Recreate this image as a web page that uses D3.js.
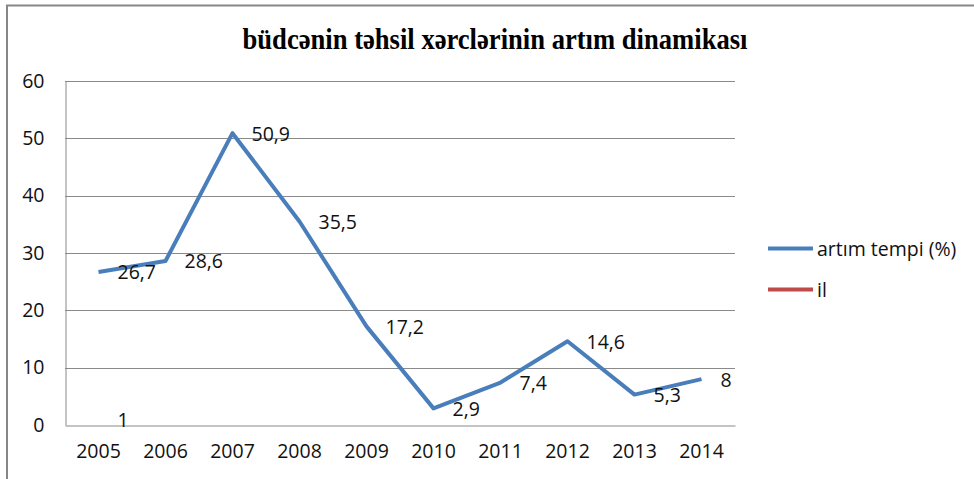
<!DOCTYPE html>
<html>
<head>
<meta charset="utf-8">
<script src="https://cdn.jsdelivr.net/npm/d3@7"></script>
<style>
  html, body { margin: 0; padding: 0; background: #fff; }
  svg { display: block; }
  text { font-family: "Open Sans", "Noto Sans", sans-serif; fill: #111; }
</style>
</head>
<body>
<svg id="chart" width="974" height="479"></svg>
<script>
// Years on the category axis
const years = ["2005", "2006", "2007", "2008", "2009", "2010", "2011", "2012", "2013", "2014"];
// Growth rate of education spending (%)
const growthRate = [26.7, 28.6, 50.9, 35.5, 17.2, 2.9, 7.4, 14.6, 5.3, 8];
// Second series "il": only one value falls inside the axis range
const ilValues = [1, null, null, null, null, null, null, null, null, null];
// Value axis ticks
const yTicks = [0, 10, 20, 30, 40, 50, 60];

const seriesNames = ["artım tempi (%)", "il"];
const seriesColors = ["#4a7ebb", "#be4b48"];
const title = "büdcənin təhsil xərclərinin artım dinamikası";

const svg = d3.select("#chart");
const plot = { left: 65, right: 735, top: 81, bottom: 425 };
const fontSize = "19.5px";

// outer chart frame
svg.append("rect")
  .attr("x", 7).attr("y", 5.5)
  .attr("width", 1000).attr("height", 1000)
  .attr("fill", "none")
  .attr("stroke", "#878787")
  .attr("stroke-width", 2);

// title
svg.append("text")
  .attr("x", 495).attr("y", 49)
  .attr("text-anchor", "middle")
  .attr("textLength", 505)
  .attr("lengthAdjust", "spacingAndGlyphs")
  .style("font-family", "'Liberation Serif', 'DejaVu Serif', serif")
  .style("font-weight", "bold")
  .style("font-size", "30px")
  .style("fill", "#000")
  .text(title);

const x = d3.scaleBand().domain(years).range([plot.left, plot.right]);
const y = d3.scaleLinear().domain([0, 60]).range([plot.bottom, plot.top]);

// horizontal gridlines
svg.append("g")
  .selectAll("line")
  .data(yTicks.filter(t => t > 0))
  .join("line")
  .attr("x1", plot.left).attr("x2", plot.right)
  .attr("y1", d => Math.round(y(d)) + 0.5)
  .attr("y2", d => Math.round(y(d)) + 0.5)
  .attr("stroke", "#8a8a8a")
  .attr("stroke-width", 1);

// value axis
const yAxis = svg.append("g")
  .attr("transform", `translate(${plot.left + 0.5},0)`)
  .call(d3.axisLeft(y).tickValues(yTicks).tickSize(0).tickPadding(21).tickFormat(d3.format("d")));
yAxis.select(".domain").attr("stroke", "#8a8a8a");
yAxis.selectAll("text").style("font-size", fontSize).style("font-family", "'Open Sans', sans-serif").style("fill", "#111");

// category axis
const xAxis = svg.append("g")
  .attr("transform", `translate(0,${plot.bottom + 0.5})`)
  .call(d3.axisBottom(x).tickSize(0).tickPadding(19));
xAxis.select(".domain").attr("stroke", "#8a8a8a");
xAxis.selectAll("text").style("font-size", fontSize).style("font-family", "'Open Sans', sans-serif").style("fill", "#111");

const cx = d => x(d) + x.bandwidth() / 2;

// series lines
const series = [growthRate, ilValues];
const line = d3.line()
  .defined(d => d.v != null)
  .x(d => cx(d.year))
  .y(d => y(d.v));

series.forEach((vals, i) => {
  const pts = years.map((yr, j) => ({ year: yr, v: vals[j] }));
  svg.append("path")
    .datum(pts)
    .attr("d", line)
    .attr("fill", "none")
    .attr("stroke", seriesColors[i])
    .attr("stroke-width", 4)
    .attr("stroke-linejoin", "round");

  // data labels to the right of each point
  svg.append("g")
    .selectAll("text")
    .data(pts.filter(p => p.v != null))
    .join("text")
    .attr("x", p => cx(p.year) + 19)
    .attr("y", p => y(p.v))
    .attr("dy", "0.38em")
    .style("font-size", fontSize)
    .text(p => String(p.v).replace(".", ","));
});

// legend
const legend = svg.append("g");
seriesNames.forEach((name, i) => {
  const ly = 248.5 + i * 41;
  legend.append("line")
    .attr("x1", 768).attr("x2", 813)
    .attr("y1", ly).attr("y2", ly)
    .attr("stroke", seriesColors[i])
    .attr("stroke-width", 4);
  legend.append("text")
    .attr("x", 817).attr("y", ly)
    .attr("dy", "0.38em")
    .style("font-size", fontSize)
    .text(name);
});
</script>
</body>
</html>
